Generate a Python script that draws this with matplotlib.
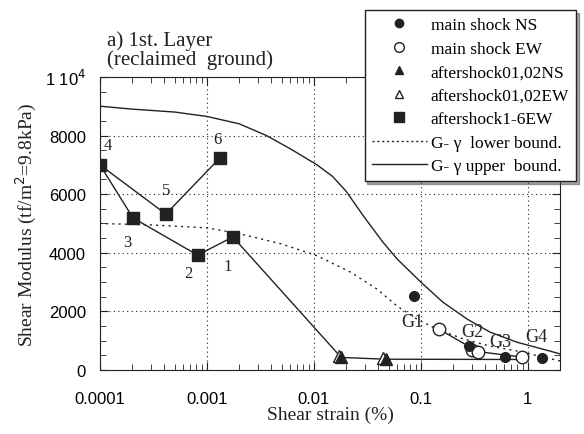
import matplotlib
matplotlib.use('Agg')
import matplotlib.pyplot as plt
from matplotlib.ticker import FixedLocator, MultipleLocator, NullFormatter
from matplotlib.lines import Line2D

# main shock (G1..G4)
ns_strain = [0.086, 0.28, 0.61, 1.35]
ns_G = [2520, 820, 440, 400]
ew_strain = [0.147, 0.30, 0.34, 0.89]
ew_G = [1400, 700, 630, 440]
# aftershocks 01,02
as_ns_strain = [0.018, 0.047]
as_ns_G = [430, 370]
as_ew_strain = [0.017, 0.044]
as_ew_G = [480, 400]
# aftershocks 1-6 EW (square markers, numbered)
sq_num = ['1', '2', '3', '4', '5', '6']
sq_strain = [0.00175, 0.00082, 0.000204, 0.0001, 0.000414, 0.00132]
sq_G = [4540, 3920, 5190, 7000, 5320, 7230]
# connecting path 4-3-2-1-aftershock01-02
path_strain = [0.0001, 0.000204, 0.00082, 0.00175, 0.018, 0.047, 0.85]
path_G = [7000, 5190, 3920, 4540, 430, 370, 360]
path2_strain = [0.0001, 0.000414, 0.00132]
path2_G = [7000, 5320, 7230]
ewpath_strain = [0.147, 0.34, 0.89]
ewpath_G = [1400, 630, 440]
# G-gamma bounds
up_strain = [0.0001, 0.0002, 0.0005, 0.001, 0.002, 0.0036, 0.006, 0.0107, 0.015,
             0.02, 0.029, 0.044, 0.06, 0.1, 0.16, 0.27, 0.44, 0.79, 1.6, 2.0]
up_G = [9000, 8900, 8800, 8650, 8400, 8000, 7550, 7000, 6600,
        6100, 5260, 4370, 3790, 3000, 2320, 1740, 1300, 950, 650, 550]
lo_strain = [0.0001, 0.0003, 0.001, 0.0017, 0.0025, 0.005, 0.0107, 0.022, 0.039,
             0.06, 0.092, 0.14, 0.25, 0.44, 0.79, 2.0]
lo_G = [5000, 4950, 4850, 4700, 4570, 4300, 3900, 3340, 2760,
        2180, 1740, 1400, 1060, 820, 650, 310]
glabels = ['G1', 'G2', 'G3', 'G4']
glab_x = [0.084, 0.30, 0.55, 1.21]
glab_y = [1670, 1300, 990, 1130]

serif = ['Liberation Serif', 'DejaVu Serif']
sans = ['Liberation Sans', 'DejaVu Sans']
ink = '#222222'

fig = plt.figure(figsize=(5.84, 4.35), dpi=100)
ax = fig.add_axes([0.171, 0.147, 0.788, 0.674])
ax.set_xscale('log')
ax.set_xlim(0.0001, 2.0)
ax.set_ylim(0, 10000)

ax.plot(up_strain, up_G, '-', color=ink, lw=1.0)
ax.plot(lo_strain, lo_G, color=ink, lw=1.0, ls=(0, (1.5, 3)))
ax.plot(path_strain, path_G, '-', color=ink, lw=1.0)
ax.plot(path2_strain, path2_G, '-', color=ink, lw=1.0)
ax.plot(ewpath_strain, ewpath_G, '-', color=ink, lw=1.0)

ax.plot(sq_strain, sq_G, 's', color=ink, ms=9, zorder=5)
ax.plot(as_ew_strain, as_ew_G, '^', mfc='white', mec=ink, ms=8, zorder=5)
ax.plot(as_ns_strain, as_ns_G, '^', color=ink, ms=8, zorder=6)
ax.plot(ew_strain, ew_G, 'o', mfc='white', mec=ink, ms=9, zorder=5)
ax.plot(ns_strain, ns_G, 'o', color=ink, ms=7, zorder=6)

# numbers beside the squares
offs = {'1': (-4, -21), '2': (-7, -13), '3': (-4, -17), '4': (6, 14), '5': (0, 17), '6': (-2, 14)}
for n, x, y in zip(sq_num, sq_strain, sq_G):
    dx, dy = offs[n]
    ax.annotate(n, (x, y), xytext=(dx, dy), textcoords='offset points',
                ha='center', va='center', fontsize=12, family=serif, color=ink)
for t, x, y in zip(glabels, glab_x, glab_y):
    ax.text(x, y, t, ha='center', va='center', fontsize=13, family=serif, color=ink)

ax.xaxis.set_major_locator(FixedLocator([0.0001, 0.001, 0.01, 0.1, 1]))
ax.set_xticklabels(['0.0001', '0.001', '0.01', '0.1', '1'], family=sans, fontsize=12)
ax.yaxis.set_major_locator(MultipleLocator(2000))
ax.yaxis.set_minor_locator(MultipleLocator(500))
ax.set_yticks([0, 2000, 4000, 6000, 8000, 10000])
ax.set_yticklabels(['0', '2000', '4000', '6000', '8000', r'1 10$^4$'], family=sans, fontsize=12)
ax.xaxis.set_minor_formatter(NullFormatter())
ax.tick_params(which='both', direction='in', top=True, right=True, color=ink)
ax.tick_params(which='major', length=6)
ax.tick_params(axis='x', which='major', pad=15)
ax.tick_params(axis='y', which='major', pad=10)
ax.tick_params(which='minor', length=4)
ax.grid(True, which='major', color=ink, lw=0.8, ls=(0, (1, 3)))
for s in ax.spines.values():
    s.set_color(ink)

ax.set_xlabel('Shear strain (%)', family=serif, fontsize=14, color=ink, labelpad=0)
ax.set_ylabel('Shear Modulus (tf/m$^2$=9.8kPa)', family=serif, fontsize=14, color=ink, labelpad=4)
fig.text(0.183, 0.838, 'a) 1st. Layer\n(reclaimed  ground)', family=serif, fontsize=15,
         color=ink, ha='left', va='bottom', linespacing=0.95)

handles = [
    Line2D([], [], ls='none', marker='o', color=ink, ms=6),
    Line2D([], [], ls='none', marker='o', mfc='white', mec=ink, ms=7),
    Line2D([], [], ls='none', marker='^', color=ink, ms=6),
    Line2D([], [], ls='none', marker='^', mfc='white', mec=ink, ms=6),
    Line2D([], [], ls='none', marker='s', color=ink, ms=7),
    Line2D([], [], color=ink, lw=1.0, ls=(0, (1.5, 2))),
    Line2D([], [], color=ink, lw=1.0),
]
labels = ['main shock NS', 'main shock EW', 'aftershock01,02NS', 'aftershock01,02EW',
          'aftershock1-6EW', 'G- γ  lower bound.', 'G- γ upper  bound.']
leg = fig.legend(handles, labels, loc='upper right', bbox_to_anchor=(0.992, 0.982),
                 prop={'family': serif, 'size': 12.5}, frameon=True, fancybox=False,
                 shadow=True, edgecolor=ink, framealpha=1, handlelength=3.2,
                 handletextpad=0.2, labelspacing=0.42, borderpad=0.4, borderaxespad=0.2)
leg.get_frame().set_linewidth(1.0)

fig.savefig('out.png', dpi=100)
